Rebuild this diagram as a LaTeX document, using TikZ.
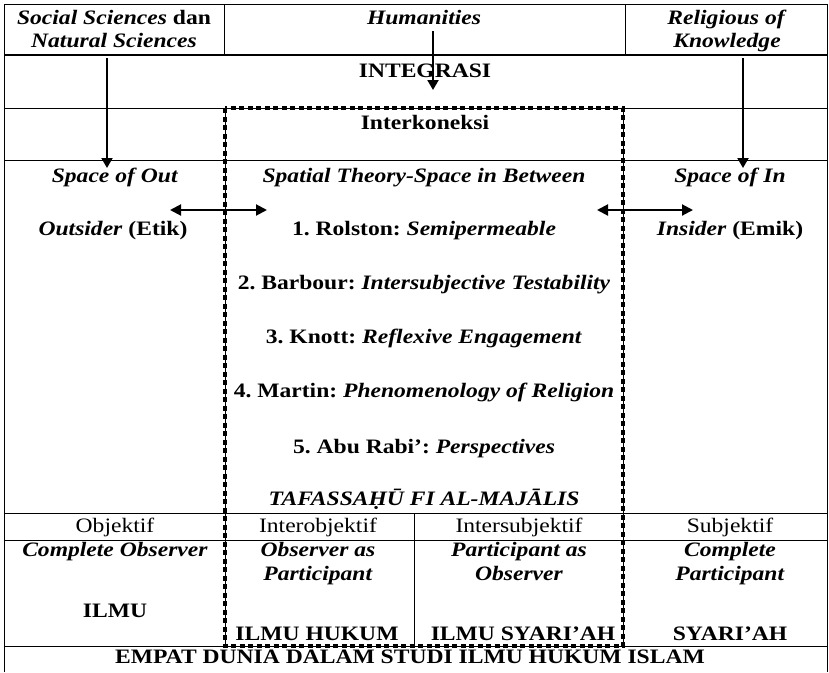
\documentclass[tikz,border=0pt]{standalone}
\usepackage{fontspec}
\setmainfont{Liberation Serif}[FakeStretch=1.15]
\usetikzlibrary{arrows.meta}
\begin{document}
\frenchspacing
\begin{tikzpicture}[x=1pt,y=-1pt,
  rule/.style={line width=1pt},
  headrule/.style={line width=1.8pt},
  lbl/.style={font=\fontsize{20.5}{22}\selectfont\bfseries, inner sep=0pt, anchor=base},
  plain/.style={font=\fontsize{20.5}{22}\selectfont, inner sep=0pt, anchor=base},
  downarrow/.style={line width=2pt, -{Triangle[width=11pt,length=10pt]}},
  twoway/.style={line width=2pt, {Triangle[width=11pt,length=11pt]}-{Triangle[width=11pt,length=11pt]}},
  framethin/.style={line width=0.9pt},
  framedots/.style={line width=4.4pt, dash pattern=on 5pt off 3.5pt},
]
\useasboundingbox (0,0) rectangle (829,672);

% table rules
\draw[rule] (4,672) -- (4,4) -- (827,4) -- (827,672);
\draw[headrule] (4,55) -- (827,55);
\draw[rule] (4,108) -- (827,108);
\draw[rule] (4,160) -- (827,160);
\draw[rule] (4,513) -- (827,513);
\draw[rule] (4,540) -- (827,540);
\draw[rule] (4,646) -- (827,646);
\draw[rule] (224,4) -- (224,55);
\draw[rule] (625,4) -- (625,55);
\draw[rule] (414,513) -- (414,646);

% header row
\node[lbl] (ss1) at (114,24) {\textit{Social Sciences} dan};
\node[lbl] (ss2) at (114,47) {\textit{Natural Sciences}};
\node[lbl] (hum) at (424,24) {\textit{Humanities}};
\node[lbl] (rk1) at (727,24) {\textit{Religious of}};
\node[lbl] (rk2) at (727,47) {\textit{Knowledge}};

% integration and interconnection rows
\node[lbl] (integ) at (425,77) {INTEGRASI};
\node[lbl] (interk) at (425,129) {Interkoneksi};

% space row
\node[lbl] (sout) at (115,182) {\textit{Space of Out}};
\node[lbl] (sbetw) at (424,182) {\textit{Spatial Theory-Space in Between}};
\node[lbl] (sin) at (730,182) {\textit{Space of In}};
\node[lbl] (outs) at (113,235) {\textit{Outsider} (Etik)};
\node[lbl] (ins) at (730,235) {\textit{Insider} (Emik)};

\node[lbl] (t1) at (424,235) {1. Rolston: \textit{Semipermeable}};
\node[lbl] (t2) at (424,289) {2. Barbour: \textit{Intersubjective Testability}};
\node[lbl] (t3) at (424,343) {3. Knott: \textit{Reflexive Engagement}};
\node[lbl] (t4) at (424,397) {4. Martin: \textit{Phenomenology of Religion}};
\node[lbl] (t5) at (424,453) {5. Abu Rabi’: \textit{Perspectives}};
\node[lbl] (taf) at (424,505) {\textit{TAFASSAḤŪ FI AL-MAJĀLIS}};

% observer row
\node[plain] (obj) at (115,532) {Objektif};
\node[plain] (iobj) at (318,532) {Interobjektif};
\node[plain] (isub) at (519,532) {Intersubjektif};
\node[plain] (sub) at (730,532) {Subjektif};

\node[lbl] (co) at (115,556) {\textit{Complete Observer}};
\node[lbl] (oa1) at (318,556) {\textit{Observer as}};
\node[lbl] (oa2) at (318,580) {\textit{Participant}};
\node[lbl] (pa1) at (519,556) {\textit{Participant as}};
\node[lbl] (pa2) at (519,580) {\textit{Observer}};
\node[lbl] (cp1) at (730,556) {\textit{Complete}};
\node[lbl] (cp2) at (730,580) {\textit{Participant}};

\node[lbl] (ilmu) at (115,617) {ILMU};
\node[lbl] (ih) at (317,640) {ILMU HUKUM};
\node[lbl] (is) at (523,640) {ILMU SYARI’AH};
\node[lbl] (sy) at (730,640) {SYARI’AH};

\node[lbl] (empat) at (410,663) {EMPAT DUNIA DALAM STUDI ILMU HUKUM ISLAM};

% dotted frame of the interconnection zone
\draw[framethin] (225,108) rectangle (623,646);
\draw[framedots] (225,108) rectangle (623,646);

% arrows
\coordinate (a1s) at (107,58);
\coordinate (a1e) at (107,168);
\coordinate (a2s) at (433,31);
\coordinate (a2e) at (433,90);
\coordinate (a3s) at (743,58);
\coordinate (a3e) at (743,168);
\draw[downarrow] (a1s) -- (a1e);
\draw[downarrow] (a2s) -- (a2e);
\draw[downarrow] (a3s) -- (a3e);

\coordinate (l1) at (170,210);
\coordinate (l2) at (267,210);
\coordinate (r1) at (597,210);
\coordinate (r2) at (693,210);
\draw[twoway] (l1) -- (l2);
\draw[twoway] (r1) -- (r2);
\end{tikzpicture}
\end{document}
